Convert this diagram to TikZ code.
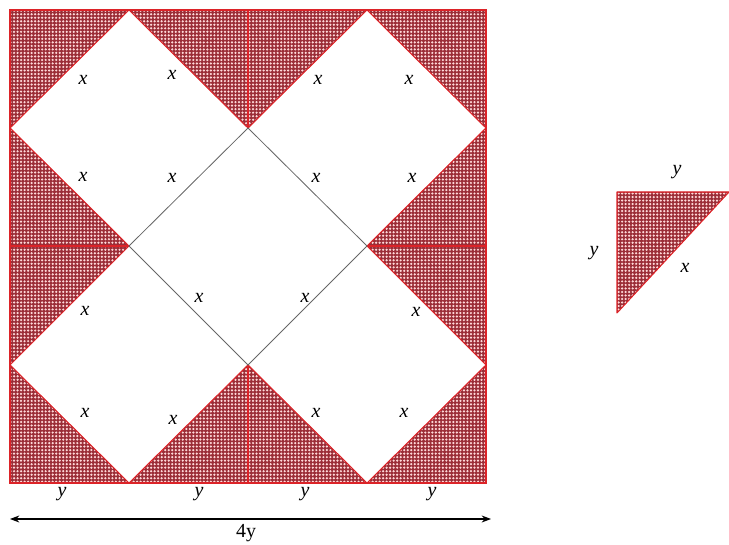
\documentclass[tikz,border=0pt]{standalone}
\usepackage{fontspec}
\setmainfont{Liberation Serif}
\usetikzlibrary{arrows.meta,patterns.meta}

\definecolor{quiltred}{RGB}{220,35,40}
\definecolor{quiltdark}{RGB}{155,45,55}

\tikzset{
  hatched/.style={preaction={fill=quiltdark}, pattern={Dots[distance=3pt, radius=1.05pt, angle=0]}, pattern color=white!85!red, draw=quiltred, line width=0.9pt, line join=round},
  redline/.style={draw=quiltred, line width=1.2pt},
  greyline/.style={draw=gray!80!black, line width=0.7pt},
  lbl/.style={font=\fontsize{17}{20}\selectfont\itshape, inner sep=0pt}
}

\begin{document}
\begin{tikzpicture}[x=0.03cm,y=-0.03cm]
\useasboundingbox (0,0) rectangle (729,545);
% corners of the big square and quarter points
\coordinate (nw) at (10,10);   \coordinate (ne) at (486,10);
\coordinate (sw) at (10,483);  \coordinate (se) at (486,483);
\coordinate (top) at (248,128);  \coordinate (bot) at (248,365);
\coordinate (lft) at (129,246);  \coordinate (rgt) at (367,246);

% shaded triangles
\path[hatched] (nw) -- (129,10) -- (10,128) -- cycle;
\path[hatched] (ne) -- (367,10) -- (486,128) -- cycle;
\path[hatched] (sw) -- (129,483) -- (10,365) -- cycle;
\path[hatched] (se) -- (367,483) -- (486,365) -- cycle;
\path[hatched] (129,10) -- (367,10) -- (top) -- cycle;
\path[hatched] (129,483) -- (367,483) -- (bot) -- cycle;
\path[hatched] (10,128) -- (lft) -- (10,365) -- cycle;
\path[hatched] (486,128) -- (rgt) -- (486,365) -- cycle;

% quadrant lines
\draw[redline] (248,10) -- (top);
\draw[redline] (bot) -- (248,483);
\draw[redline] (10,246) -- (lft);
\draw[redline] (rgt) -- (486,246);

% middle square
\draw[greyline] (top) -- (rgt) -- (bot) -- (lft) -- cycle;

% outer square
\draw[quiltred, line width=1.5pt] (nw) rectangle (se);

% side labels
\node[lbl] (x1) at (83,80) {x};
\node[lbl] (x2) at (172,75) {x};
\node[lbl] (x3) at (318,80) {x};
\node[lbl] (x4) at (409,80) {x};
\node[lbl] (x5) at (83,177) {x};
\node[lbl] (x6) at (172,178) {x};
\node[lbl] (x7) at (316,178) {x};
\node[lbl] (x8) at (412,178) {x};
\node[lbl] (x9) at (85,311) {x};
\node[lbl] (x10) at (199,298) {x};
\node[lbl] (x11) at (305,298) {x};
\node[lbl] (x12) at (416,312) {x};
\node[lbl] (x13) at (85,413) {x};
\node[lbl] (x14) at (173,420) {x};
\node[lbl] (x15) at (316,413) {x};
\node[lbl] (x16) at (404,413) {x};

\node[lbl] (y1) at (62,494) {y};
\node[lbl] (y2) at (199,494) {y};
\node[lbl] (y3) at (305,494) {y};
\node[lbl] (y4) at (432,494) {y};

% width arrow
\coordinate (arrL) at (10,519);
\coordinate (arrR) at (491,519);
\draw[{Stealth[length=8pt]}-{Stealth[length=8pt]}, line width=1pt] (arrL) -- (arrR);
\node[lbl, font=\fontsize{17}{20}\selectfont] (w) at (246,533) {4y};

% single triangle
\path[hatched] (617,192) -- (729,192) -- (617,313) -- cycle;
\node[lbl] (ty) at (677,172) {y};
\node[lbl] (ly) at (594,253) {y};
\node[lbl] (hx) at (685,268) {x};
\end{tikzpicture}
\end{document}
